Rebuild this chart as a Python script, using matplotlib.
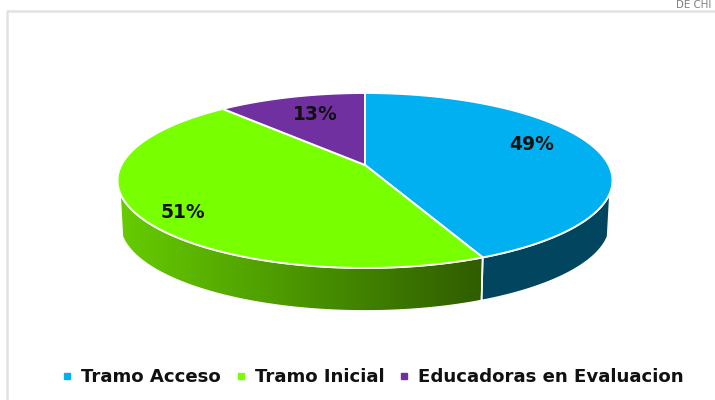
import numpy as np
import matplotlib
matplotlib.use("Agg")
import matplotlib.pyplot as plt
from matplotlib.colors import LinearSegmentedColormap
from matplotlib.lines import Line2D
from matplotlib.patches import Polygon

categories = ["Tramo Acceso", "Tramo Inicial", "Educadoras en Evaluacion"]
values = [49, 51, 13]
labels = ["49%", "51%", "13%"]

colors = ["#00B0F0", "#78FF00", "#7030A0"]
side_colors = [["#02455F", "#02455F"], ["#66CC00", "#2F5C00"], ["#7030A0", "#7030A0"]]
label_pos = [(532, 145), (183, 212), (315, 114)]

# projection of the pie disc on the picture, in pixels
cx, cy = 365, 165
sx, sy, tilt = 243.6, 84.75, 0.177
depth, shrink = 44, 0.99
# part of the rim where the side wall shows, degrees clockwise from the top
side_from, side_to = 108, 252


def project(theta, r=1.0, s=1.0, dy=0.0):
    t = np.radians(theta)
    u, v = r * np.sin(t), r * np.cos(t)
    w = 1 + tilt * v
    return cx + s * sx * u / w, cy - s * sy * v / w + dy


fig = plt.figure(figsize=(7.15, 4), dpi=100)
ax = fig.add_axes([0, 0, 1, 1])

edges = np.concatenate([[0], np.cumsum(values)]) / np.sum(values) * 360

# side walls
for i in range(len(values)):
    a, b = max(edges[i], side_from), min(edges[i + 1], side_to)
    if a >= b:
        continue
    t = np.linspace(a, b, 200)
    x1, y1 = project(t)
    x2, y2 = project(t, s=shrink, dy=depth)
    pts = np.column_stack([np.r_[x1, x2[::-1]], np.r_[y1, y2[::-1]]])
    cmap = LinearSegmentedColormap.from_list("side", side_colors[i])
    im = ax.imshow(np.linspace(0, 1, 256)[None, :], cmap=cmap, aspect="auto", zorder=1,
                   extent=[pts[:, 0].min(), pts[:, 0].max(), pts[:, 1].max(), pts[:, 1].min()])
    clip = Polygon(pts, closed=True, transform=ax.transData)
    im.set_clip_path(clip)
    ax.add_patch(Polygon(pts, closed=True, fill=False, edgecolor="white", linewidth=1.2, zorder=2))

# top of the pie
for i in range(len(values)):
    t = np.linspace(edges[i], edges[i + 1], 300)
    x, y = project(t)
    pts = np.column_stack([np.r_[cx, x], np.r_[cy, y]])
    ax.add_patch(Polygon(pts, closed=True, facecolor=colors[i], edgecolor="white",
                         linewidth=1.4, joinstyle="round", zorder=3))

for lab, (x, y) in zip(labels, label_pos):
    ax.text(x, y, lab, ha="center", va="center", fontsize=13.5, fontweight="bold",
            color="#111111", zorder=4)

handles = [Line2D([], [], linestyle="none", marker="s", markersize=5, color=c) for c in colors]
ax.legend(handles, categories, loc="center", bbox_to_anchor=(370 / 715, 1 - 377.5 / 400), ncol=3,
          frameon=False, prop={"size": 13.1, "weight": "bold"}, labelcolor="#111111",
          handletextpad=0.15, columnspacing=0.5, handlelength=1.2, borderpad=0)

# picture frame and the cut off text above it
ax.plot([7, 7, 715], [400, 11, 11], color="#E2E2E2", linewidth=1.8, zorder=0)
ax.text(676, 0.5, "DE CHI", fontsize=7.4, color="#808080", ha="left", va="top")

ax.set_xlim(0, 715)
ax.set_ylim(400, 0)
ax.axis("off")

fig.savefig("out.png", dpi=100)
